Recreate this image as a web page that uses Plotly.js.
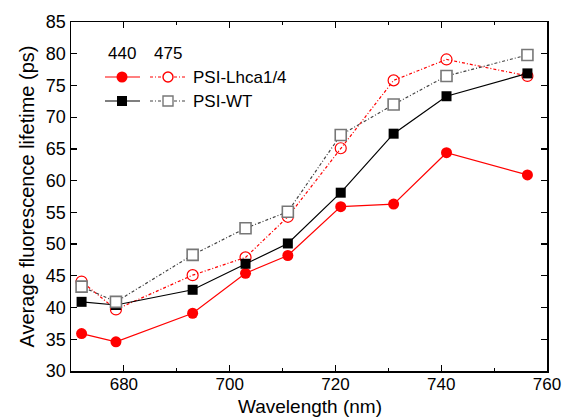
<!DOCTYPE html>
<html>
<head>
<meta charset="utf-8">
<script src="https://cdn.plot.ly/plotly-3.0.1.min.js"></script>
<style>html,body{margin:0;padding:0;background:#fff;}#chart{width:564px;height:417px;}</style>
</head>
<body>
<div id="chart"></div>
<script>
// Data
const wavelength = [672, 678.5, 693, 703, 711, 721, 731, 741, 756.3];
const lhca_440 = [35.9, 34.6, 39.1, 45.4, 48.2, 55.9, 56.3, 64.4, 60.9];
const lhca_475 = [44.1, 39.7, 45.1, 47.9, 54.3, 65.1, 75.8, 79.1, 76.5];
const wt_440   = [40.9, 40.4, 42.8, 46.9, 50.1, 58.1, 67.4, 73.3, 76.9];
const wt_475   = [43.3, 40.9, 48.3, 52.5, 55.1, 67.2, 72.0, 76.5, 79.8];
const legendHeader = ["440", "475"];
const legendNames = ["PSI-Lhca1/4", "PSI-WT"];
const xTitle = "Wavelength (nm)";
const yTitle = "Average fluorescence lifetime (ps)";

const RED = "#ff0000";
const DASH = "3px,2px,1px,2px";
const FONT = "Liberation Sans, Arial, sans-serif";

const traces = [
  {x: wavelength, y: lhca_440, mode: "lines+markers", type: "scatter",
   line: {color: RED, width: 1.2},
   marker: {symbol: "circle", size: 11, color: RED, line: {width: 0}}},
  {x: wavelength, y: lhca_475, mode: "lines+markers", type: "scatter",
   line: {color: RED, width: 1.2, dash: DASH},
   marker: {symbol: "circle-open", size: 11, color: RED, line: {width: 1.2, color: RED}}},
  {x: wavelength, y: wt_440, mode: "lines+markers", type: "scatter",
   line: {color: "#000", width: 1.2},
   marker: {symbol: "square", size: 10, color: "#000", line: {width: 0}}},
  {x: wavelength, y: wt_475, mode: "lines+markers", type: "scatter",
   line: {color: "#444", width: 1.2, dash: DASH},
   marker: {symbol: "square", size: 11, color: "#fff", line: {width: 1.6, color: "#777"}}}
];

// plot area in pixels
const L = 71, R = 547, T = 22, B = 371;
const px = v => (v - L) / (R - L);
const py = v => (B - v) / (B - T);

const shapes = [];
const annotations = [];
function legendRow(yPix, color, filledSym, openSym, openColor, lineColor2, name) {
  shapes.push({type: "line", xref: "paper", yref: "paper", x0: px(105), x1: px(140), y0: py(yPix), y1: py(yPix), line: {color: color, width: 1.2}});
  shapes.push({type: "line", xref: "paper", yref: "paper", x0: px(150), x1: px(186), y0: py(yPix), y1: py(yPix), line: {color: lineColor2, width: 1.2, dash: DASH}});
  const s1 = filledSym === "circle" ? 5.5 : 5;
  shapes.push({type: filledSym === "circle" ? "circle" : "rect", xref: "paper", yref: "paper", xsizemode: "pixel", ysizemode: "pixel",
    xanchor: px(122), yanchor: py(yPix), x0: -s1, x1: s1, y0: -s1, y1: s1, fillcolor: color, line: {width: 0}});
  shapes.push({type: openSym === "circle" ? "circle" : "rect", xref: "paper", yref: "paper", xsizemode: "pixel", ysizemode: "pixel",
    xanchor: px(168), yanchor: py(yPix), x0: -5, x1: 5, y0: -5, y1: 5, fillcolor: "#fff", line: {width: 1.4, color: openColor}});
  annotations.push({xref: "paper", yref: "paper", x: px(191), y: py(yPix), xanchor: "left", yanchor: "middle", showarrow: false,
    text: name, font: {family: FONT, size: 17, color: "#000"}});
}
legendRow(77, RED, "circle", "circle", RED, RED, legendNames[0]);
legendRow(101, "#000", "square", "square", "#777", "#444", legendNames[1]);
annotations.push({xref: "paper", yref: "paper", x: px(122), y: py(53), xanchor: "center", yanchor: "middle", showarrow: false,
  text: legendHeader[0], font: {family: FONT, size: 17, color: "#000"}});
annotations.push({xref: "paper", yref: "paper", x: px(168), y: py(53), xanchor: "center", yanchor: "middle", showarrow: false,
  text: legendHeader[1], font: {family: FONT, size: 17, color: "#000"}});
// x-axis title placed just under the tick labels, at the bottom edge (as in the reference)
annotations.push({xref: "paper", yref: "paper", x: px(310), y: py(418), xanchor: "center", yanchor: "bottom", showarrow: false,
  text: xTitle, font: {family: FONT, size: 19, color: "#000"}, borderpad: 0});

const axisCommon = {
  showgrid: false, zeroline: false, showline: true, linecolor: "#000", linewidth: 1.5, mirror: "ticks",
  ticks: "inside", ticklen: 6, tickwidth: 1.2, tickcolor: "#000",
  tickfont: {family: FONT, size: 18, color: "#000"}
};

const layout = {
  width: 564, height: 417,
  margin: {l: L, r: 564 - R, t: T, b: 417 - B},
  paper_bgcolor: "#fff", plot_bgcolor: "#fff",
  showlegend: false,
  font: {family: FONT, color: "#000"},
  xaxis: Object.assign({}, axisCommon, {
    range: [670, 760], tick0: 680, dtick: 20, ticklabelstandoff: -3,
    tickfont: {family: FONT, size: 17, color: "#000"},
    minor: {dtick: 10, tick0: 670, ticks: "inside", ticklen: 3, tickcolor: "#000", tickwidth: 1.2}
  }),
  yaxis: Object.assign({}, axisCommon, {
    range: [30, 85], tick0: 30, dtick: 5,
    title: {text: yTitle, font: {family: FONT, size: 20, color: "#000"}, standoff: 6}
  }),
  shapes: shapes,
  annotations: annotations
};

Plotly.newPlot("chart", traces, layout, {staticPlot: true, displayModeBar: false});
</script>
</body>
</html>
